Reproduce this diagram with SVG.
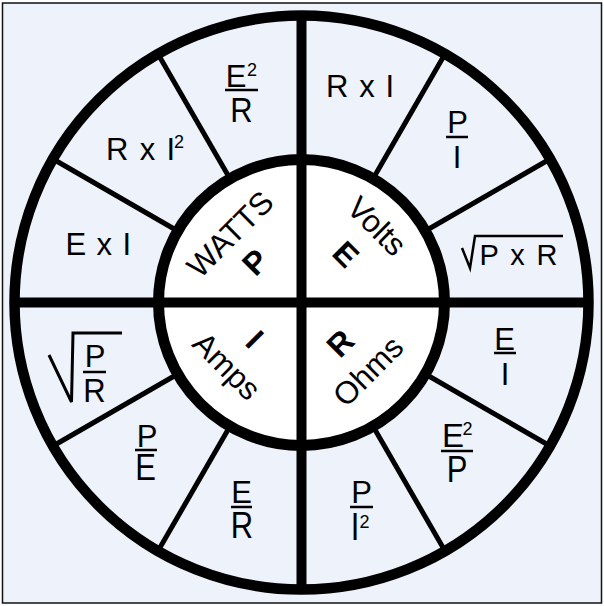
<svg xmlns="http://www.w3.org/2000/svg" width="604" height="606" viewBox="0 0 604 606">
<style>
  text { font-family: "Liberation Sans", Arial, sans-serif; font-size: 31px; fill: #000; }
  .sup { font-size: 18px; }
  .lbl { font-size: 31.5px; text-anchor: middle; }
  .big { font-size: 32px; font-weight: bold; text-anchor: middle; }
  .c { text-anchor: middle; }
  .bar { stroke: #000; stroke-width: 2.5; fill: none; }
  .rad { stroke: #000; stroke-width: 3; fill: none; stroke-linejoin: miter; }
  .spoke { stroke: #000; stroke-width: 5; }
  .axis { stroke: #000; stroke-width: 10; }
</style>
<rect x="2.5" y="3" width="599" height="600" fill="#edf2fb" stroke="#111" stroke-width="1.5"/>

<g id="wheel">
  <circle cx="301.5" cy="302.5" r="287" fill="#edf2fb" stroke="#000" stroke-width="10.5"/>
  <circle cx="301.5" cy="302.5" r="143" fill="#ffffff" stroke="#000" stroke-width="11"/>
</g>

<g id="connectors">
  <line class="axis" x1="301.5" y1="15" x2="301.5" y2="590"/>
  <line class="axis" x1="14" y1="302.5" x2="589" y2="302.5"/>
  <line class="spoke" x1="425.3" y1="231" x2="550" y2="159"/>
  <line class="spoke" x1="373" y1="178.7" x2="445" y2="54"/>
  <line class="spoke" x1="230" y1="178.7" x2="158" y2="54"/>
  <line class="spoke" x1="177.7" y1="231" x2="53" y2="159"/>
  <line class="spoke" x1="177.7" y1="374" x2="53" y2="446"/>
  <line class="spoke" x1="230" y1="426.3" x2="158" y2="551"/>
  <line class="spoke" x1="373" y1="426.3" x2="445" y2="551"/>
  <line class="spoke" x1="425.3" y1="374" x2="550" y2="446"/>
</g>

<g id="watts">
  <text class="lbl" transform="translate(230,234) rotate(-45)" y="11">WATTS</text>
  <text class="big" transform="translate(255,262) rotate(-45)" y="11.4">P</text>
</g>
<g id="volts">
  <text class="lbl" transform="translate(377,226) rotate(45)" y="11">Volts</text>
  <text class="big" transform="translate(346,254) rotate(45)" y="11.4">E</text>
</g>
<g id="amps">
  <text class="lbl" transform="translate(227,366) rotate(45)" y="11">Amps</text>
  <text class="big" transform="translate(255,339) rotate(45)" y="11.4">I</text>
</g>
<g id="ohms">
  <text class="lbl" transform="translate(368,371) rotate(-45)" y="11">Ohms</text>
  <text class="big" transform="translate(340,343) rotate(-45)" y="11.4">R</text>
</g>

<g id="f-e2-over-r">
  <text class="c" x="236" y="87">E</text>
  <text class="sup" x="247" y="75.5">2</text>
  <line class="bar" x1="225" y1="90" x2="258" y2="90"/>
  <text class="c" transform="translate(241.5,122) scale(1,1.13)">R</text>
</g>
<g id="f-rxi2">
  <text x="106" y="160" textLength="69" lengthAdjust="spacing">R x I</text>
  <text class="sup" x="174" y="147.5">2</text>
</g>
<g id="f-exi">
  <text x="65.5" y="255" textLength="65.5" lengthAdjust="spacing">E x I</text>
</g>
<g id="f-sqrt-p-over-r">
  <polyline class="rad" points="49,355 71.5,402 73,333 122,333"/>
  <text class="c" x="95" y="367">P</text>
  <line class="bar" x1="83" y1="372" x2="106" y2="372"/>
  <text class="c" transform="translate(94.5,402) scale(1,1.08)">R</text>
</g>
<g id="f-p-over-e">
  <text class="c" x="147" y="447">P</text>
  <line class="bar" x1="135" y1="450" x2="157" y2="450"/>
  <text class="c" transform="translate(145.5,480) scale(1,1.22)">E</text>
</g>
<g id="f-e-over-r">
  <text class="c" x="241.5" y="503">E</text>
  <line class="bar" x1="231" y1="507" x2="252" y2="507"/>
  <text class="c" transform="translate(242,538) scale(1,1.17)">R</text>
</g>
<g id="f-p-over-i2">
  <text class="c" x="361.5" y="503">P</text>
  <line class="bar" x1="350" y1="507" x2="373" y2="507"/>
  <text class="c" transform="translate(355,540) scale(1,1.26)">I</text>
  <text class="sup" x="359.5" y="527.5">2</text>
</g>
<g id="f-e2-over-p">
  <text class="c" x="453" y="447" style="font-size:33px">E</text>
  <text class="sup" x="462.5" y="434.5">2</text>
  <line class="bar" x1="441" y1="451" x2="473" y2="451"/>
  <text class="c" transform="translate(457,482) scale(1,1.22)">P</text>
</g>
<g id="f-e-over-i">
  <text class="c" x="504.5" y="350">E</text>
  <line class="bar" x1="494" y1="353" x2="516" y2="353"/>
  <text class="c" transform="translate(505,385) scale(1,1.04)">I</text>
</g>
<g id="f-sqrt-pxr">
  <polyline class="rad" points="462,248 470,268 475,236 563,236" style="stroke-width:2.5"/>
  <text x="479.5" y="265" style="font-size:29px" textLength="78" lengthAdjust="spacing">P x R</text>
</g>
<g id="f-p-over-i">
  <text class="c" x="457.5" y="133">P</text>
  <line class="bar" x1="446" y1="137" x2="468" y2="137"/>
  <text class="c" x="457" y="168">I</text>
</g>
<g id="f-rxi">
  <text x="326" y="97" textLength="68" lengthAdjust="spacing">R x I</text>
</g>
</svg>
